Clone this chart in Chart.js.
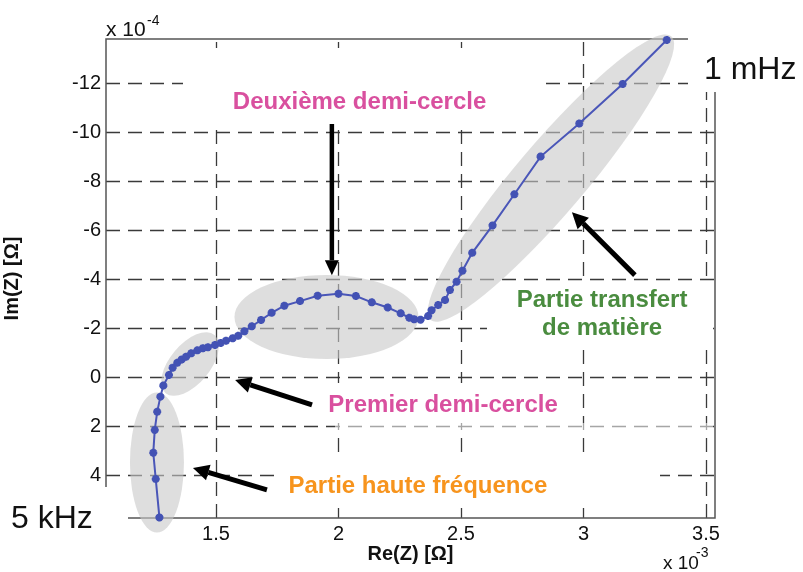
<!DOCTYPE html>
<html><head><meta charset="utf-8">
<script src="https://cdn.jsdelivr.net/npm/chart.js@4.4.1/dist/chart.umd.min.js"></script>
<style>html,body{margin:0;padding:0;background:#fff;}#wrap{width:803px;height:572px;}</style>
</head><body><div id="wrap"><canvas id="c" width="803" height="572"></canvas></div>
<script>
// Re(Z) in units of 1e-3 Ohm, Im(Z) in units of 1e-4 Ohm (from 5 kHz to 1 mHz)
const reZ = [1.269,1.254,1.244,1.250,1.260,1.273,1.285,1.308,1.323,1.342,1.360,1.378,1.399,1.424,1.446,1.467,1.496,1.519,1.541,1.568,1.591,1.616,1.646,1.684,1.727,1.779,1.843,1.915,2.000,2.071,2.136,2.201,2.254,2.289,2.309,2.335,2.366,2.380,2.407,2.435,2.455,2.482,2.506,2.546,2.629,2.718,2.825,2.983,3.160,3.340];
const imZ = [5.73,4.16,3.09,2.16,1.42,0.80,0.35,-0.08,-0.38,-0.58,-0.72,-0.83,-0.97,-1.09,-1.17,-1.22,-1.31,-1.39,-1.48,-1.58,-1.69,-1.87,-2.07,-2.33,-2.62,-2.91,-3.10,-3.32,-3.40,-3.31,-3.05,-2.84,-2.60,-2.42,-2.36,-2.34,-2.49,-2.73,-2.94,-3.14,-3.55,-3.89,-4.34,-5.07,-6.19,-7.46,-9.00,-10.35,-11.96,-13.76];
const xTicks = [1.5, 2, 2.5, 3, 3.5];
const xTickLabels = ['1.5', '2', '2.5', '3', '3.5'];
const yTicks = [-12, -10, -8, -6, -4, -2, 0, 2, 4];
const yTickLabels = ['-12', '-10', '-8', '-6', '-4', '-2', '0', '2', '4'];
const xTitle = 'Re(Z) [Ω]';
const yTitle = 'Im(Z) [Ω]';
const xExp = '-3', yExp = '-4';
const highLabel = '5 kHz', lowLabel = '1 mHz';

// annotations (positions in data units)
const regions = [
  {cx: 1.259, cy: 3.49, rx: 27, ry: 70, rot: 0},
  {cx: 1.394, cy: -0.53, rx: 38, ry: 20, rot: -50},
  {cx: 1.951, cy: -2.45, rx: 92, ry: 42, rot: 0},
  {cx: 2.867, cy: -8.12, rx: 186, ry: 35, rot: -49.7}
];
const arrows = [
  {x1: 1.973, y1: -10.33, x2: 1.973, y2: -4.16, w: 4.5, hl: 15, hw: 14},
  {x1: 1.892, y1: 1.14, x2: 1.578, y2: 0.12, w: 5, hl: 16, hw: 16},
  {x1: 1.708, y1: 4.61, x2: 1.406, y2: 3.71, w: 5, hl: 16, hw: 16},
  {x1: 3.210, y1: -4.16, x2: 2.953, y2: -6.73, w: 5, hl: 16, hw: 16}
];
const notes = [
  {text: 'Deuxième demi-cercle', x: 2.086, y: -10.94, color: '#d9509f'},
  {text: 'Premier demi-cercle', x: 2.427, y: 1.43, color: '#d9509f'},
  {text: 'Partie haute fréquence', x: 2.324, y: 4.73, color: '#f7941d'},
  {text: 'Partie transfert', x: 3.076, y: -2.86, color: '#4a8c3f'},
  {text: 'de matière', x: 3.076, y: -1.71, color: '#4a8c3f'}
];
// white backing patches of the pasted labels (pixel boxes: x, y, w, h, alpha)
const patches = [
  [183, 48, 360, 74, 1],
  [335, 383, 240, 40, 1],
  [335, 423, 378, 8, 0.55],
  [277, 460, 383, 48, 1],
  [487, 284, 226, 64, 1],
  [688, 0, 115, 92, 1],
  [0, 487, 128, 85, 1]
];

const FONT = '"Liberation Sans", Arial, Helvetica, sans-serif';

function drawArrow(ctx, x1, y1, x2, y2, w, hl, hw) {
  const a = Math.atan2(y2 - y1, x2 - x1);
  const bx = x2 - hl * Math.cos(a), by = y2 - hl * Math.sin(a);
  ctx.save();
  ctx.strokeStyle = '#000'; ctx.fillStyle = '#000'; ctx.lineWidth = w; ctx.lineCap = 'butt';
  ctx.beginPath(); ctx.moveTo(x1, y1); ctx.lineTo(bx, by); ctx.stroke();
  ctx.beginPath();
  ctx.moveTo(x2, y2);
  ctx.lineTo(bx + hw / 2 * Math.sin(a), by - hw / 2 * Math.cos(a));
  ctx.lineTo(bx - hw / 2 * Math.sin(a), by + hw / 2 * Math.cos(a));
  ctx.closePath(); ctx.fill();
  ctx.restore();
}

const overlay = {
  id: 'overlay',
  beforeDatasetsDraw(chart) {
    const {ctx, chartArea: ca, scales: {x, y}} = chart;
    ctx.save();
    // dashed grid
    ctx.strokeStyle = '#3a3a3a'; ctx.lineWidth = 1.3; ctx.setLineDash([14, 8]);
    xTicks.forEach(v => {
      const px = Math.round(x.getPixelForValue(v)) + 0.5;
      ctx.beginPath(); ctx.moveTo(px, ca.bottom); ctx.lineTo(px, ca.top); ctx.stroke();
    });
    yTicks.forEach(v => {
      const py = Math.round(y.getPixelForValue(v)) + 0.5;
      ctx.beginPath(); ctx.moveTo(ca.left, py); ctx.lineTo(ca.right, py); ctx.stroke();
    });
    ctx.setLineDash([]);
    // white label patches
    patches.forEach(p => { ctx.fillStyle = 'rgba(255,255,255,' + p[4] + ')'; ctx.fillRect(p[0], p[1], p[2], p[3]); });
    // frame (partially hidden by the corner labels)
    ctx.strokeStyle = '#555'; ctx.lineWidth = 1.5;
    ctx.beginPath();
    ctx.moveTo(ca.left, 487); ctx.lineTo(ca.left, ca.top); ctx.lineTo(688, ca.top);
    ctx.moveTo(ca.right, 92); ctx.lineTo(ca.right, ca.bottom); ctx.lineTo(128, ca.bottom);
    ctx.stroke();
    // shaded regions
    ctx.fillStyle = 'rgba(200,200,200,0.6)';
    regions.forEach(r => {
      ctx.beginPath();
      ctx.ellipse(x.getPixelForValue(r.cx), y.getPixelForValue(r.cy), r.rx, r.ry, r.rot * Math.PI / 180, 0, Math.PI * 2);
      ctx.fill();
    });
    ctx.restore();
  },
  afterDraw(chart) {
    const {ctx, scales: {x, y}} = chart;
    ctx.save();
    arrows.forEach(a => drawArrow(ctx, x.getPixelForValue(a.x1), y.getPixelForValue(a.y1),
      x.getPixelForValue(a.x2), y.getPixelForValue(a.y2), a.w, a.hl, a.hw));
    ctx.textAlign = 'center'; ctx.textBaseline = 'alphabetic';
    ctx.font = 'bold 24px ' + FONT;
    notes.forEach(n => { ctx.fillStyle = n.color; ctx.fillText(n.text, x.getPixelForValue(n.x), y.getPixelForValue(n.y)); });
    // frequency labels
    ctx.fillStyle = '#111';
    ctx.font = '32px ' + FONT;
    ctx.textAlign = 'left';
    ctx.fillText(lowLabel, 704, 79);
    ctx.fillText(highLabel, 11, 528);
    // exponents
    ctx.font = '21px ' + FONT;
    ctx.fillText('x 10', 106, 36);
    ctx.font = '19px ' + FONT;
    ctx.fillText('x 10', 663, 569);
    ctx.font = '14px ' + FONT;
    ctx.fillText(yExp, 147, 25);
    ctx.fillText(xExp, 696, 557);
    ctx.restore();
  }
};

new Chart(document.getElementById('c'), {
  type: 'scatter',
  data: {
    datasets: [{
      data: reZ.map((v, i) => ({x: v, y: imZ[i]})),
      showLine: true,
      borderColor: '#4a56b8',
      borderWidth: 2,
      pointStyle: 'star',
      pointRadius: 4,
      pointBorderWidth: 2.6,
      pointBorderColor: '#4352b4',
      pointBackgroundColor: '#4352b4',
      clip: false
    }]
  },
  options: {
    responsive: false,
    animation: false,
    devicePixelRatio: 1,
    layout: {padding: {left: 0, right: 88, top: 39, bottom: 0}},
    plugins: {legend: {display: false}, tooltip: {enabled: false}},
    scales: {
      x: {
        type: 'linear', min: 1.051, max: 3.537,
        afterBuildTicks: s => { s.ticks = xTicks.map(v => ({value: v})); },
        afterFit: s => { s.height = 54; },
        ticks: {
          color: '#111', font: {family: FONT, size: 20}, padding: 4,
          callback: (v) => { const i = xTicks.indexOf(v); return i >= 0 ? xTickLabels[i] : ''; }
        },
        grid: {display: false, drawTicks: false},
        border: {display: false},
        title: {display: true, text: xTitle, color: '#111', font: {family: FONT, size: 20, weight: 'bold'}, padding: {top: 0, bottom: 6}}
      },
      y: {
        type: 'linear', reverse: true, min: -13.8, max: 5.755,
        afterBuildTicks: s => { s.ticks = yTicks.map(v => ({value: v})); },
        afterFit: s => { s.width = 106; },
        ticks: {
          color: '#111', font: {family: FONT, size: 20}, padding: 5,
          callback: (v) => { const i = yTicks.indexOf(v); return i >= 0 ? yTickLabels[i] : ''; }
        },
        grid: {display: false, drawTicks: false},
        border: {display: false},
        title: {display: true, text: yTitle, color: '#111', font: {family: FONT, size: 20, weight: 'bold'}, padding: {top: 0, bottom: 0}}
      }
    }
  },
  plugins: [overlay]
});
</script>
</body></html>
